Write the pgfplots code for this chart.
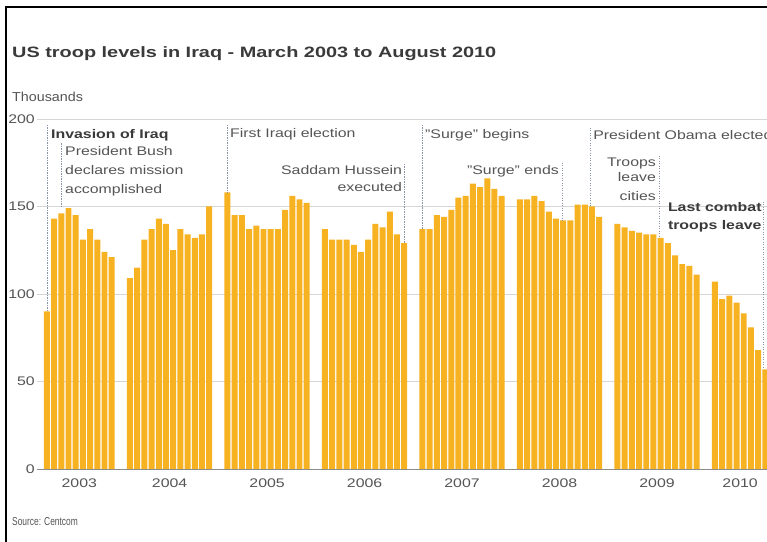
\documentclass[border=0pt]{standalone}
\usepackage{pgfplots}
\pgfplotsset{compat=1.18}
\usepackage{pgfplotstable}
\usepackage{graphicx}
\usepackage{fontspec}
\setmainfont{Liberation Sans}
\definecolor{barc}{HTML}{F7B222}
\definecolor{txt}{HTML}{555555}
\definecolor{dark}{HTML}{3A3A3A}
\definecolor{dotc}{HTML}{8A94A6}
\newcommand{\sx}[1]{\scalebox{1.27}[1]{#1}}
\newcommand{\af}{\fontsize{12.5}{15}\selectfont}

\pgfplotstableread{
year month value
2003 3 90
2003 4 143
2003 5 146
2003 6 149
2003 7 145
2003 8 131
2003 9 137
2003 10 131
2003 11 124
2003 12 121
2004 1 109
2004 2 115
2004 3 131
2004 4 137
2004 5 143
2004 6 140
2004 7 125
2004 8 137
2004 9 134
2004 10 132
2004 11 134
2004 12 150
2005 1 158
2005 2 145
2005 3 145
2005 4 137
2005 5 139
2005 6 137
2005 7 137
2005 8 137
2005 9 148
2005 10 156
2005 11 154
2005 12 152
2006 1 137
2006 2 131
2006 3 131
2006 4 131
2006 5 128
2006 6 124
2006 7 131
2006 8 140
2006 9 138
2006 10 147
2006 11 134
2006 12 129
2007 1 137
2007 2 137
2007 3 145
2007 4 144
2007 5 148
2007 6 155
2007 7 156
2007 8 163
2007 9 161
2007 10 166
2007 11 160
2007 12 156
2008 1 154
2008 2 154
2008 3 156
2008 4 153
2008 5 147
2008 6 143
2008 7 142
2008 8 142
2008 9 151
2008 10 151
2008 11 150
2008 12 144
2009 1 140
2009 2 138
2009 3 136
2009 4 135
2009 5 134
2009 6 134
2009 7 132
2009 8 129
2009 9 122
2009 10 117
2009 11 116
2009 12 111
2010 1 107
2010 2 97
2010 3 99
2010 4 95
2010 5 89
2010 6 81
2010 7 68
2010 8 57
}\troops

\begin{document}
\begin{tikzpicture}[x=1pt,y=1pt]
\clip (0,0) rectangle (767,541);
\fill[white] (0,0) rectangle (767,541);
\draw[black, line width=1.6pt] (6,-2) -- (6,534) -- (770,534);
\node[anchor=base west, inner sep=0pt, text=dark, font=\fontsize{15}{18}\selectfont\bfseries] at (12,483.7) {\scalebox{1.326}[1]{US troop levels in Iraq - March 2003 to August 2010}};
\node[anchor=base west, inner sep=0pt, text=txt, font=\fontsize{13}{15}\selectfont] at (12,439.3) {\scalebox{1.1}[1]{Thousands}};
\node[anchor=base west, inner sep=0pt, text=txt, font=\fontsize{11.5}{13}\selectfont] at (12,16) {\scalebox{0.73}[1]{Source: Centcom}};

\begin{axis}[
  at={(37pt,72pt)}, anchor=south west,
  scale only axis, width=730pt, height=350pt,
  xmin=0.625, xmax=102.01, ymin=0, ymax=200,
  axis line style={draw=none}, tick style={draw=none},
  ymajorgrids, major grid style={draw=black!16, line width=0.8pt},
  ytick={0,50,100,150,200},
  yticklabels={\sx{0},\sx{50},\sx{100},\sx{150},\sx{200}},
  yticklabel style={anchor=east, inner sep=0pt, xshift=-2pt, text=txt, font=\af},
  xtick={6.5,19.04,32.58,46.12,59.66,73.2,86.74,98.28},
  xticklabels={\sx{2003},\sx{2004},\sx{2005},\sx{2006},\sx{2007},\sx{2008},\sx{2009},\sx{2010}},
  xticklabel style={anchor=north, inner sep=0pt, yshift=-10pt, text=txt, font=\af},
]
\addplot[ybar, bar width=0.83, fill=barc, draw=none]
  table[x expr={(\thisrow{year}-2003)*13.54+\thisrow{month}-1}, y=value] {\troops};
\draw[black!45, line width=1pt] (axis cs:0.625,0) -- (axis cs:102.01,0);

\tikzset{ev/.style={dotc, line width=0.7pt, dash pattern=on 1.2pt off 1.3pt}}
\draw[ev] (axis cs:2.01,196.6) -- (axis cs:2.01,90);
\draw[ev] (axis cs:4,186) -- (axis cs:4,149);
\draw[ev] (axis cs:27.08,196.6) -- (axis cs:27.08,158);
\draw[ev] (axis cs:51.62,174.3) -- (axis cs:51.62,129);
\draw[ev] (axis cs:54.16,196.6) -- (axis cs:54.16,137);
\draw[ev] (axis cs:73.58,175) -- (axis cs:73.58,142);
\draw[ev] (axis cs:77.53,195) -- (axis cs:77.53,150);
\draw[ev] (axis cs:87.06,179) -- (axis cs:87.06,132);
\draw[ev] (axis cs:101.5,152.7) -- (axis cs:101.5,57);

\tikzset{lw/.style={anchor=base west, inner sep=0pt, text=txt, font=\af},
         le/.style={anchor=base east, inner sep=0pt, text=txt, font=\af}}
\node[lw, text=dark, font=\af\bfseries] at (axis cs:2.57,188.97) {\sx{Invasion of Iraq}};
\node[lw] at (axis cs:4.51,179.4) {\sx{President Bush}};
\node[lw] at (axis cs:4.51,168.57) {\sx{declares mission}};
\node[lw] at (axis cs:4.51,157.7) {\sx{accomplished}};
\node[lw] at (axis cs:27.43,189.7) {\sx{First Iraqi election}};
\node[le] at (axis cs:51.35,168.57) {\sx{Saddam Hussein}};
\node[le] at (axis cs:51.35,158.5) {\sx{executed}};
\node[lw] at (axis cs:54.51,188.97) {\sx{"Surge" begins}};
\node[le] at (axis cs:73.13,168.57) {\sx{"Surge" ends}};
\node[lw] at (axis cs:77.85,188.4) {\sx{President Obama elected}};
\node[le] at (axis cs:86.6,172.6) {\sx{Troops}};
\node[le] at (axis cs:86.6,164.5) {\sx{leave}};
\node[le] at (axis cs:86.6,153.7) {\sx{cities}};
\node[le, text=dark, font=\af\bfseries] at (axis cs:101.28,147) {\sx{Last combat}};
\node[le, text=dark, font=\af\bfseries] at (axis cs:101.28,136.6) {\sx{troops leave}};
\end{axis}
\end{tikzpicture}
\end{document}
